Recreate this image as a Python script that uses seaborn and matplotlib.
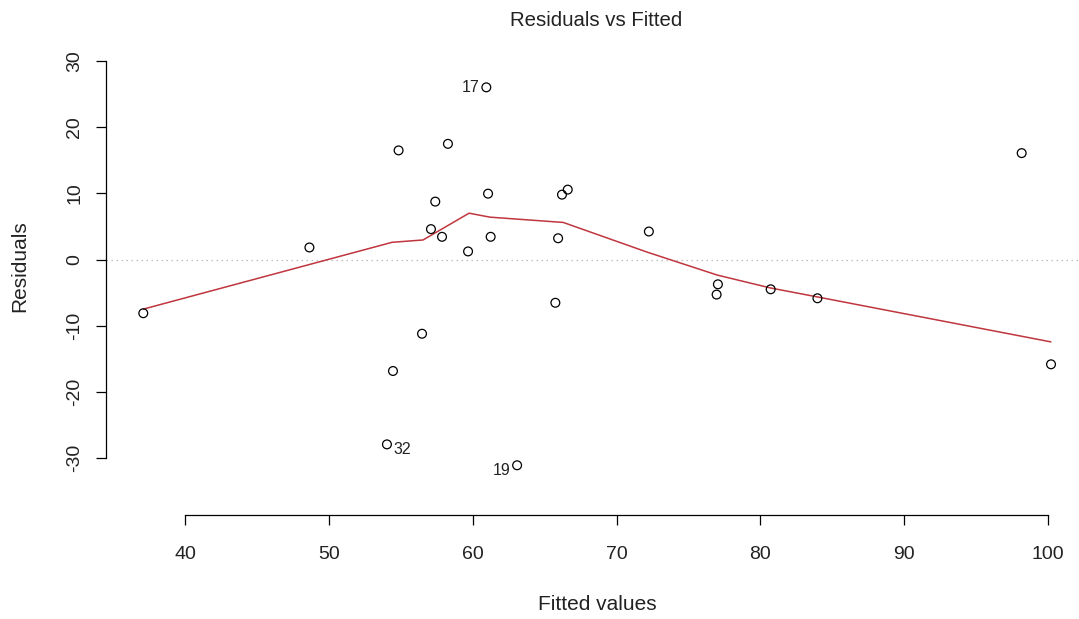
import numpy as np
import pandas as pd
import matplotlib
matplotlib.use("Agg")
import matplotlib.pyplot as plt
import seaborn as sns

# ---- data ----
fitted = [37.10, 48.65, 54.85, 58.28, 60.95, 61.07, 57.40, 57.10, 57.87, 59.68,
          61.25, 65.94, 66.21, 66.61, 56.48, 54.46, 54.04, 63.09, 65.75, 72.25,
          77.05, 76.96, 80.72, 83.97, 98.17, 100.21]
residuals = [-8.12, 1.82, 16.49, 17.48, 26.02, 9.95, 8.75, 4.59, 3.43, 1.22,
             3.43, 3.21, 9.80, 10.56, -11.22, -16.85, -27.94, -31.10, -6.54, 4.23,
             -3.75, -5.30, -4.50, -5.86, 16.08, -15.84]

smooth_x = [37.1, 54.4, 56.55, 59.75, 61.2, 66.3, 72.15, 77.0, 80.7, 83.95, 100.2]
smooth_y = [-7.5, 2.6, 2.95, 7.0, 6.4, 5.6, 1.1, -2.35, -4.3, -5.65, -12.45]

id_labels = ["17", "32", "19"]
id_index = [4, 16, 17]

x_ticks = [40, 50, 60, 70, 80, 90, 100]
y_ticks = [-30, -20, -10, 0, 10, 20, 30]

title = "Residuals vs Fitted"
x_label = "Fitted values"
y_label = "Residuals"

# ---- style ----
sns.set_style("white")
plt.rcParams["font.family"] = ["Liberation Sans", "DejaVu Sans"]

W, H = 1079, 619
fig = plt.figure(figsize=(W / 100, H / 100), dpi=100)

left_px, right_px, top_px, bottom_px = 106, 1079, 38, 515
ax = fig.add_axes([left_px / W, (H - bottom_px) / H,
                   (right_px - left_px) / W, (bottom_px - top_px) / H])

df = pd.DataFrame({"fitted": fitted, "residuals": residuals})
sm = pd.DataFrame({"x": smooth_x, "y": smooth_y})

ax.axhline(0, color="#BEBEBE", lw=0.9, linestyle=(0, (1.2, 2.8)), zorder=1)
sns.lineplot(data=sm, x="x", y="y", ax=ax, color="#C0363E", lw=1.1,
             estimator=None, sort=False, zorder=2)
sns.scatterplot(data=df, x="fitted", y="residuals", ax=ax, marker="o",
                s=40, facecolor="none", edgecolor="black", linewidth=0.9, zorder=3)

offsets = {"17": (-5, 0, "right"), "32": (5, -4, "left"), "19": (-5, -4, "right")}
for lab, i in zip(id_labels, id_index):
    dx, dy, ha = offsets[lab]
    ax.annotate(lab, (fitted[i], residuals[i]), xytext=(dx, dy),
                textcoords="offset points", ha=ha, va="center",
                fontsize=11.5, color="#222222")

# scales matching the reference pixel layout
px_per_x = (1048 - 185) / 60.0
px_per_y = (458 - 61) / 60.0
ax.set_xlim(40 - (185 - left_px) / px_per_x, 100 + (right_px - 1048) / px_per_x)
y0 = 259.5
ax.set_ylim(-(bottom_px - y0) / px_per_y, (y0 - top_px) / px_per_y)

for s in ["top", "right"]:
    ax.spines[s].set_visible(False)
ax.spines["bottom"].set_bounds(40, 100)
ax.spines["left"].set_bounds(-30, 30)
for s in ["bottom", "left"]:
    ax.spines[s].set_linewidth(0.9)
    ax.spines[s].set_color("black")

ax.set_xticks(x_ticks)
ax.set_yticks(y_ticks)
ax.set_xticklabels([str(t) for t in x_ticks])
ax.set_yticklabels([str(t) for t in y_ticks], rotation=90, va="center")
ax.tick_params(axis="both", which="major", direction="out", length=7.5, width=0.9,
               color="black", labelsize=14, labelcolor="#222222",
               bottom=True, left=True, top=False, right=False)
ax.tick_params(axis="x", pad=14.5)
ax.tick_params(axis="y", pad=9)
ax.set_xlabel("")
ax.set_ylabel("")

fig.text(596 / W, 1 - 20 / H, title, ha="center", va="center",
         fontsize=14.7, color="#222222")
fig.text(597 / W, 1 - 605 / H, x_label, ha="center", va="center",
         fontsize=15, color="#222222")
fig.text(20 / W, 1 - 266 / H, y_label, ha="center", va="center",
         rotation=90, fontsize=15, color="#222222")

fig.savefig("out.png", dpi=100)
